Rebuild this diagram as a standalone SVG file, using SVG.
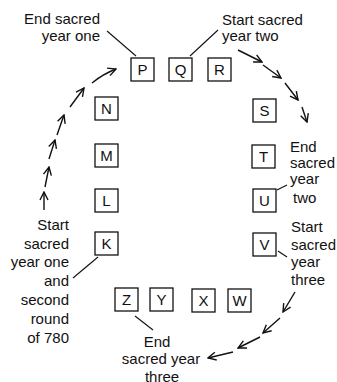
<svg xmlns="http://www.w3.org/2000/svg" width="337" height="382" viewBox="0 0 337 382">
<style>
.box rect{fill:#fff;stroke:#111;stroke-width:1.3}
.box text{font-family:"Liberation Sans",Arial,sans-serif;font-size:15px;fill:#111;text-anchor:middle}
.lbl{font-family:"Liberation Sans",Arial,sans-serif;font-size:15px;fill:#111}
.arr{stroke:#111;stroke-width:1.4;fill:none;marker-end:url(#ah)}
.lead{stroke:#111;stroke-width:1.1;fill:none}
</style>
<defs>
<marker id="ah" viewBox="0 0 10 10" refX="9" refY="5" markerWidth="10" markerHeight="10" orient="auto" markerUnits="userSpaceOnUse">
<path d="M1,1 L9,5 L1,9" fill="none" stroke="#111" stroke-width="1.4"/>
</marker>
</defs>
<rect width="337" height="382" fill="#fff"/>
<g id="P" class="box"><rect x="131" y="58" width="23" height="23"/><text x="142.5" y="75">P</text></g>
<g id="Q" class="box"><rect x="169" y="58" width="23" height="23"/><text x="180.5" y="75">Q</text></g>
<g id="R" class="box"><rect x="208" y="58" width="23" height="23"/><text x="219.5" y="75">R</text></g>
<g id="N" class="box"><rect x="95" y="97" width="23" height="23"/><text x="106.5" y="114">N</text></g>
<g id="M" class="box"><rect x="95" y="144" width="23" height="23"/><text x="106.5" y="161">M</text></g>
<g id="L" class="box"><rect x="95" y="189" width="23" height="23"/><text x="106.5" y="206">L</text></g>
<g id="K" class="box"><rect x="95" y="232" width="23" height="23"/><text x="106.5" y="249">K</text></g>
<g id="S" class="box"><rect x="253" y="99" width="23" height="23"/><text x="264.5" y="116">S</text></g>
<g id="T" class="box"><rect x="252" y="145" width="23" height="23"/><text x="263.5" y="162">T</text></g>
<g id="U" class="box"><rect x="253" y="189" width="23" height="23"/><text x="264.5" y="206">U</text></g>
<g id="V" class="box"><rect x="253" y="233" width="23" height="23"/><text x="264.5" y="250">V</text></g>
<g id="Z" class="box"><rect x="115" y="288" width="23" height="23"/><text x="126.5" y="305">Z</text></g>
<g id="Y" class="box"><rect x="150" y="288" width="23" height="23"/><text x="161.5" y="305">Y</text></g>
<g id="X" class="box"><rect x="192" y="289" width="23" height="23"/><text x="203.5" y="306">X</text></g>
<g id="W" class="box"><rect x="228" y="289" width="23" height="23"/><text x="239.5" y="306">W</text></g>
<g id="connectors">
<path class="arr" d="M44,210 L44,192"/>
<path class="arr" d="M45,187 L49,167"/>
<path class="arr" d="M49,159 L55,140"/>
<path class="arr" d="M57,135 L64,115"/>
<path class="arr" d="M70,107 L84,88"/>
<path class="arr" d="M92,83 Q103,74 116,69"/>
<path class="arr" d="M238,50 L262,62"/>
<path class="arr" d="M263,65 L281,78"/>
<path class="arr" d="M285,83 L298,100"/>
<path class="arr" d="M302,107 L307,122"/>
<path class="arr" d="M295,292 L283,312"/>
<path class="arr" d="M280,318 L263,333"/>
<path class="arr" d="M260,337 L238,348"/>
<path class="arr" d="M233,352 L208,358"/>
<path class="lead" d="M107,31 L136,56"/>
<path class="lead" d="M190,56 L218,30"/>
<path class="lead" d="M277,190 L287,185"/>
<path class="lead" d="M278,251 L287,257"/>
<path class="lead" d="M98,257 L73,278"/>
<path class="lead" d="M135,316 L153,330"/>
</g>
<g id="labels">
<text class="lbl" x="100" y="24" text-anchor="end">End sacred</text>
<text class="lbl" x="100" y="41" text-anchor="end">year one</text>
<text class="lbl" x="222" y="25">Start sacred</text>
<text class="lbl" x="222" y="41">year two</text>
<text class="lbl" x="290" y="152">End</text>
<text class="lbl" x="290" y="168">sacred</text>
<text class="lbl" x="290" y="184">year</text>
<text class="lbl" x="293" y="203">two</text>
<text class="lbl" x="291" y="232">Start</text>
<text class="lbl" x="291" y="250">sacred</text>
<text class="lbl" x="291" y="267">year</text>
<text class="lbl" x="291" y="285">three</text>
<text class="lbl" x="69" y="230" text-anchor="end">Start</text>
<text class="lbl" x="69" y="249" text-anchor="end">sacred</text>
<text class="lbl" x="69" y="267" text-anchor="end">year one</text>
<text class="lbl" x="69" y="286" text-anchor="end">and</text>
<text class="lbl" x="69" y="305" text-anchor="end">second</text>
<text class="lbl" x="69" y="324" text-anchor="end">round</text>
<text class="lbl" x="69" y="343" text-anchor="end">of 780</text>
<text class="lbl" x="157" y="347" text-anchor="middle">End</text>
<text class="lbl" x="161" y="364" text-anchor="middle">sacred year</text>
<text class="lbl" x="162" y="382" text-anchor="middle">three</text>
</g>
</svg>
